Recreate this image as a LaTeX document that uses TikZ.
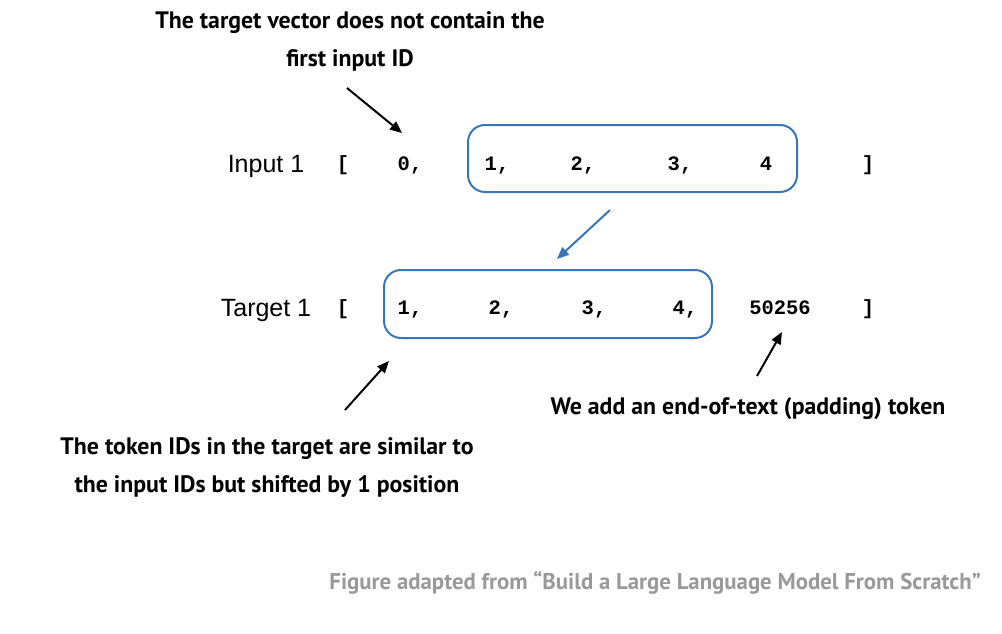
\documentclass[tikz,border=0pt]{standalone}
\usepackage{fontspec}
\setmainfont{Liberation Sans}
\newfontfamily\notefont{PT Sans}
\newfontfamily\codefont{Liberation Mono}
\usetikzlibrary{arrows.meta}
\definecolor{boxblue}{HTML}{3A76B5}
\definecolor{capgray}{HTML}{999999}
\tikzset{
  px/.style={x=1pt,y=-1pt},
  note/.style={font=\notefont\bfseries\fontsize{23.8}{38}\selectfont, align=center, inner sep=0pt},
  capnote/.style={font=\notefont\bfseries\fontsize{22.8}{26}\selectfont, inner sep=0pt, text=capgray},
  code/.style={font=\codefont\bfseries\fontsize{20.5}{22}\selectfont, inner sep=0pt, anchor=base},
  lab/.style={font=\fontsize{25}{28}\selectfont, inner sep=0pt, anchor=base},
  vecbox/.style={draw=boxblue, line width=2pt, rounded corners=17pt},
  blackarrow/.style={-{Triangle[length=12pt,width=10pt]}, line width=2pt, black},
  bluearrow/.style={-{Triangle[length=12pt,width=10pt]}, line width=2pt, boxblue},
}
\begin{document}
\begin{tikzpicture}[px]
\useasboundingbox (0,0) rectangle (1002,634);
% top note
\node[note] (topnote) at (350,41) {The target vector does not contain the\\first input ID};
\coordinate (t1) at (347,88);
\coordinate (t2) at (402,133);
\draw[blackarrow] (t1) -- (t2);
% row 1
\node[lab] (in1) at (266,172) {Input 1};
\node[code] (lb1) at (343,170) {[};
\node[code] (i0) at (410,170) {0,};
\node[vecbox, minimum width=329pt, minimum height=67pt] (box1) at (632.5,158.5) {};
\node[code] (i1) at (497,170) {1,};
\node[code] (i2) at (583,170) {2,};
\node[code] (i3) at (680,170) {3,};
\node[code] (i4) at (766,170) {4};
\node[code] (rb1) at (868,170) {]};
% blue arrow
\coordinate (b1) at (610,210);
\coordinate (b2) at (557,259);
\draw[bluearrow] (b1) -- (b2);
% row 2
\node[lab] (tg1) at (266,316) {Target 1};
\node[code] (lb2) at (343,314) {[};
\node[vecbox, minimum width=328pt, minimum height=68pt] (box2) at (548,304) {};
\node[code] (o1) at (410,314) {1,};
\node[code] (o2) at (501,314) {2,};
\node[code] (o3) at (594,314) {3,};
\node[code] (o4) at (685,314) {4,};
\node[code] (o5) at (780,314) {50256};
\node[code] (rb2) at (868,314) {]};
% bottom arrows
\coordinate (p1) at (757,376);
\coordinate (p2) at (782,332);
\draw[blackarrow] (p1) -- (p2);
\coordinate (s1) at (345,410);
\coordinate (s2) at (389,361);
\draw[blackarrow] (s1) -- (s2);
\node[note] (padnote) at (748,409) {We add an end-of-text (padding) token};
\node[note] (shiftnote) at (267,467) {The token IDs in the target are similar to\\the input IDs but shifted by 1 position};
\node[capnote, anchor=east] (caption) at (981,583) {Figure adapted from “Build a Large Language Model From Scratch”};
\end{tikzpicture}
\end{document}
